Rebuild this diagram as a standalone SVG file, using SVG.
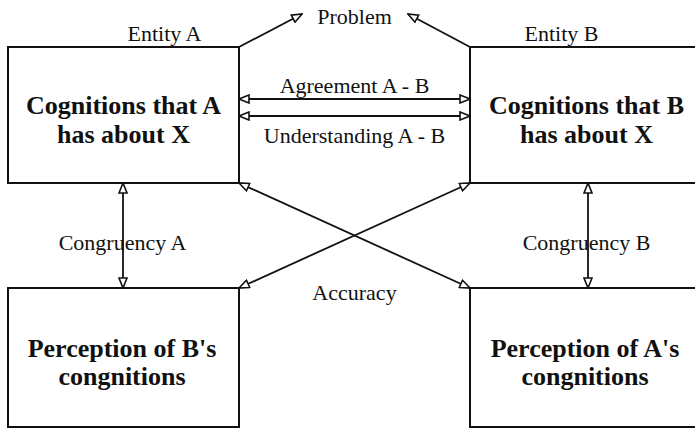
<svg xmlns="http://www.w3.org/2000/svg" width="695" height="428" viewBox="0 0 695 428">
<style>
.box{fill:#fff;stroke:#111;stroke-width:2}
.t{font-family:"Liberation Serif","Times New Roman",serif;font-weight:bold;font-size:26px;fill:#111;text-anchor:middle}
.l{font-family:"Liberation Serif","Times New Roman",serif;font-size:22px;fill:#111;text-anchor:middle}
.c{stroke:#111;stroke-width:1.8;fill:none;marker-end:url(#ah)}
.d{marker-start:url(#ah)}
</style>
<defs>
<marker id="ah" markerUnits="userSpaceOnUse" markerWidth="12" markerHeight="10" refX="11" refY="5" orient="auto-start-reverse" viewBox="0 0 12 10">
<path d="M1,1 L11,5 L1,9 Z" fill="#fff" stroke="#111" stroke-width="1.6"/>
</marker>
</defs>
<g id="nodeA">
<rect class="box" x="8" y="47" width="231" height="136"/>
<text class="t" x="123.5" y="114">Cognitions that A</text>
<text class="t" x="123.5" y="143">has about X</text>
</g>
<g id="nodeB">
<rect class="box" x="470" y="47" width="231" height="136"/>
<text class="t" x="586.5" y="114">Cognitions that B</text>
<text class="t" x="586.5" y="143">has about X</text>
</g>
<g id="nodePB">
<rect class="box" x="8" y="288" width="231" height="139"/>
<text class="t" x="122" y="357">Perception of B's</text>
<text class="t" x="122" y="385">congnitions</text>
</g>
<g id="nodePA">
<rect class="box" x="470" y="288" width="231" height="139"/>
<text class="t" x="585" y="357">Perception of A's</text>
<text class="t" x="585" y="385">congnitions</text>
</g>
<g id="connectors">
<line class="c" x1="239" y1="47" x2="302" y2="14"/>
<line class="c" x1="470" y1="47" x2="408" y2="14"/>
<line class="c d" x1="239" y1="99" x2="470" y2="99"/>
<line class="c d" x1="239" y1="116" x2="470" y2="116"/>
<line class="c d" x1="123" y1="183" x2="123" y2="288"/>
<line class="c d" x1="588" y1="183" x2="588" y2="288"/>
<line class="c d" x1="239" y1="183" x2="470" y2="288"/>
<line class="c d" x1="470" y1="183" x2="239" y2="288"/>
</g>
<g id="labels">
<text class="l" x="164.5" y="41">Entity A</text>
<text class="l" x="561.5" y="41">Entity B</text>
<text class="l" x="354.5" y="24">Problem</text>
<text class="l" x="354.5" y="93">Agreement A - B</text>
<text class="l" x="354.5" y="143">Understanding A - B</text>
<text class="l" x="122.5" y="250">Congruency A</text>
<text class="l" x="586.5" y="250">Congruency B</text>
<text class="l" x="354.5" y="300">Accuracy</text>
</g>
</svg>
